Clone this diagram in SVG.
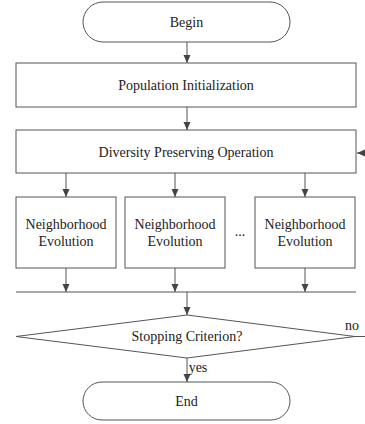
<svg xmlns="http://www.w3.org/2000/svg" width="365" height="424" viewBox="0 0 365 424">
<style>
.s{fill:#fff;stroke:#555;stroke-width:1}
.l{fill:none;stroke:#555;stroke-width:1}
text{font-family:'Liberation Serif','Times New Roman',Tinos,'DejaVu Serif',serif;font-size:14px;fill:#222;text-anchor:middle}
</style>
<defs>
<marker id="a" markerWidth="8" markerHeight="8" refX="8" refY="4" orient="auto" markerUnits="userSpaceOnUse">
<path d="M0,0.5 L8,4 L0,7.5 Z" fill="#444"/>
</marker>
</defs>
<rect width="365" height="424" fill="#fff"/>
<g id="begin"><rect class="s" x="83" y="2" width="207" height="40" rx="20"/><text x="186.5" y="27">Begin</text></g>
<g id="init"><rect class="s" x="16" y="63" width="340" height="44"/><text x="186" y="90">Population Initialization</text></g>
<g id="diversity"><rect class="s" x="16" y="130" width="340" height="43"/><text x="186" y="157">Diversity Preserving Operation</text></g>
<g id="ne1"><rect class="s" x="16" y="197" width="100" height="71"/><text x="66" y="229">Neighborhood</text><text x="66" y="246">Evolution</text></g>
<g id="ne2"><rect class="s" x="125" y="197" width="100" height="71"/><text x="175" y="229">Neighborhood</text><text x="175" y="246">Evolution</text></g>
<g id="ne3"><rect class="s" x="255" y="197" width="100" height="71"/><text x="305" y="229">Neighborhood</text><text x="305" y="246">Evolution</text></g>
<text x="240" y="236">...</text>
<g id="stop"><polygon class="s" points="187,315 355,336.5 187,358 16,336.5"/><text x="187" y="341">Stopping Criterion?</text></g>
<g id="end"><rect class="s" x="83" y="382" width="207" height="38" rx="19"/><text x="186.5" y="406">End</text></g>
<g id="connectors">
<line class="l" x1="187" y1="42" x2="187" y2="63" marker-end="url(#a)"/>
<line class="l" x1="187" y1="107" x2="187" y2="130" marker-end="url(#a)"/>
<line class="l" x1="66" y1="173" x2="66" y2="197" marker-end="url(#a)"/>
<line class="l" x1="175" y1="173" x2="175" y2="197" marker-end="url(#a)"/>
<line class="l" x1="305" y1="173" x2="305" y2="197" marker-end="url(#a)"/>
<line class="l" x1="66" y1="268" x2="66" y2="292" marker-end="url(#a)"/>
<line class="l" x1="175" y1="268" x2="175" y2="292" marker-end="url(#a)"/>
<line class="l" x1="305" y1="268" x2="305" y2="292" marker-end="url(#a)"/>
<line class="l" x1="16" y1="292" x2="356" y2="292"/>
<line class="l" x1="187" y1="292" x2="187" y2="315" marker-end="url(#a)"/>
<line class="l" x1="187" y1="358" x2="187" y2="382" marker-end="url(#a)"/>
<line class="l" x1="355" y1="336.5" x2="365" y2="336.5"/>
<line class="l" x1="366" y1="153" x2="357" y2="153" marker-end="url(#a)"/>
<text x="198" y="372">yes</text>
<text x="352" y="330">no</text>
</g>
</svg>
